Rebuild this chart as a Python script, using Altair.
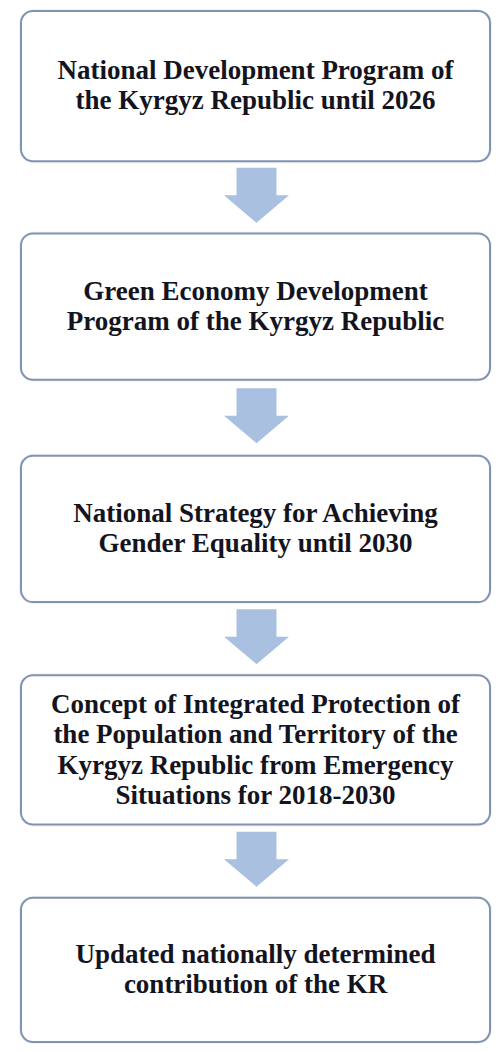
import altair as alt
import pandas as pd

# Flowchart content (top to bottom)
labels = [
    "National Development Program of\nthe Kyrgyz Republic until 2026",
    "Green Economy Development\nProgram of the Kyrgyz Republic",
    "National Strategy for Achieving\nGender Equality until 2030",
    "Concept of Integrated Protection of\nthe Population and Territory of the\nKyrgyz Republic from Emergency\nSituations for 2018-2030",
    "Updated nationally determined\ncontribution of the KR",
]
steps = [1, 2, 3, 4, 5]

# Layout (reference pixel coordinates)
box_top = [6, 231, 456, 678, 903]
box_bottom = [158, 379, 604, 829, 1049]
box_left, box_right = 28, 497
cx = (box_left + box_right) / 2
line_h = 30.3

n_lines = [lab.count("\n") + 1 for lab in labels]
boxes = pd.DataFrame({
    "step": steps,
    "label": labels,
    "x": [box_left] * 5,
    "x2": [box_right] * 5,
    "y": box_top,
    "y2": box_bottom,
    "cx": [cx] * 5,
    # y of the first text line so that the block is centred in its box
    "ty": [(t + b) / 2 - (n - 1) * line_h / 2 for t, b, n in zip(box_top, box_bottom, n_lines)],
})
arrows = pd.DataFrame({
    "cx": [cx + 1] * 4,
    "cy": [(box_bottom[i] + box_top[i + 1]) / 2 - 2 for i in range(4)],
})

xs = alt.Scale(domain=[15, 499])
ys = alt.Scale(domain=[3, 1051], reverse=True)
X = lambda f: alt.X(f, type="quantitative", scale=xs, axis=None)
Y = lambda f: alt.Y(f, type="quantitative", scale=ys, axis=None)

shadow = alt.Chart(boxes).mark_rect(cornerRadius=13, fill="#f1efeb", stroke="#f4f2ee", strokeWidth=4).encode(
    x=X("x"), x2="x2", y=Y("y"), y2="y2"
)
rects = alt.Chart(boxes).mark_rect(cornerRadius=12, fill="white", stroke="#7f94b3", strokeWidth=2).encode(
    x=X("x"), x2="x2", y=Y("y"), y2="y2"
)
texts = alt.Chart(boxes).mark_text(
    font="Liberation Serif", fontWeight="bold", fontSize=27, lineHeight=line_h,
    lineBreak="\n", align="center", baseline="middle", color="#14141e"
).encode(x=X("cx"), y=Y("ty"), text="label:N")

arrow_path = "M-0.615,-0.846L0.615,-0.846L0.615,0L1,0L0,0.846L-1,0L-0.615,0Z"
arrow_marks = alt.Chart(arrows).mark_point(
    shape=arrow_path, size=4225, filled=True, fill="#a9c0e1", opacity=1, strokeWidth=0
).encode(x=X("cx"), y=Y("cy"))

chart = alt.layer(shadow, rects, arrow_marks, texts).properties(
    width=484, height=1036, padding=0
).configure_view(stroke=None)

chart.save("out.html", embed_options={"renderer": "svg", "actions": False})
